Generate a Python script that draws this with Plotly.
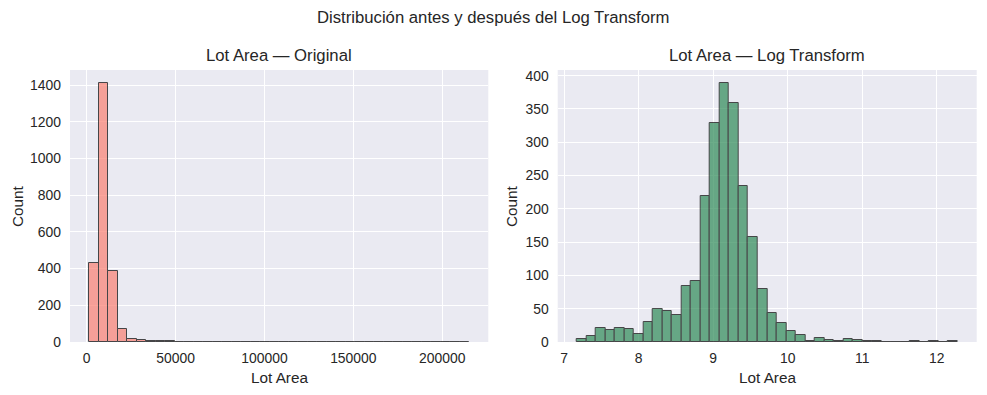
import numpy as np
import plotly.graph_objects as go

# ---------------- data ----------------
lot_area_min = 1300
lot_area_max = 215245
n_bins = 40

# counts per bin, original Lot Area (40 equal bins between min and max)
orig_counts = [431, 1412, 387, 71, 18, 13, 5, 3, 3, 2,
               1, 1, 1, 0, 0, 0, 0, 0, 0, 0,
               0, 1, 0, 0, 0, 0, 0, 0, 1, 0,
               0, 0, 0, 0, 0, 0, 0, 0, 0, 1]

# counts per bin, log(Lot Area) (40 equal bins between log(min) and log(max))
log_counts = [4, 9, 21, 18, 21, 20, 12, 30, 50, 46,
              40, 84, 92, 219, 329, 389, 359, 234, 157, 79,
              43, 29, 16, 11, 2, 6, 3, 1, 5, 3,
              1, 1, 0, 0, 0, 1, 0, 1, 0, 1]

orig_xticks = [0, 50000, 100000, 150000, 200000]
orig_yticks = [0, 200, 400, 600, 800, 1000, 1200, 1400]
log_xticks = [7, 8, 9, 10, 11, 12]
log_yticks = [0, 50, 100, 150, 200, 250, 300, 350, 400]

suptitle = "Distribución antes y después del Log Transform"
title_left = "Lot Area — Original"
title_right = "Lot Area — Log Transform"
xlabel = "Lot Area"
ylabel = "Count"

# ---------------- styling ----------------
W, H = 987, 395
BG = "#EAEAF2"
TXT = "#262626"
FONT = "Liberation Sans, Arial, sans-serif"
TICK_SIZE = 13.9
LABEL_SIZE = 15.3
TITLE_SIZE = 16.7

# pixel boxes of the two plot areas
left_box = (70, 488.3)
right_box = (557.7, 976.7)
top_px, bottom_px = 70, 342


def px_x(p):
    return p / W


def px_y(p):
    return 1 - p / H


def bins(lo, hi, n):
    edges = np.linspace(lo, hi, n + 1)
    return (edges[:-1] + edges[1:]) / 2, edges[1] - edges[0], edges


oc, ow, oe = bins(lot_area_min, lot_area_max, n_bins)
lc, lw, le = bins(np.log(lot_area_min), np.log(lot_area_max), n_bins)


def margin_range(edges):
    span = edges[-1] - edges[0]
    return [edges[0] - 0.05 * span, edges[-1] + 0.05 * span]


fig = go.Figure()
fig.add_trace(go.Bar(
    x=oc, y=orig_counts, width=ow, xaxis="x", yaxis="y",
    marker=dict(color="#FA8072", line=dict(color="black", width=1)),
    opacity=0.7, showlegend=False, hoverinfo="x+y",
))
fig.add_trace(go.Bar(
    x=lc, y=log_counts, width=lw, xaxis="x2", yaxis="y2",
    marker=dict(color="#2E8B57", line=dict(color="black", width=1)),
    opacity=0.7, showlegend=False, hoverinfo="x+y",
))

ydom = [px_y(bottom_px), px_y(top_px)]
axis_common = dict(
    showgrid=True, gridcolor="white", gridwidth=1.4,
    zeroline=False, showline=False, ticks="", automargin=False,
    tickfont=dict(family=FONT, size=TICK_SIZE, color=TXT),
)

fig.update_layout(
    template="none",
    width=W, height=H,
    margin=dict(l=0, r=0, t=0, b=0, pad=0),
    paper_bgcolor="white",
    plot_bgcolor=BG,
    bargap=0,
    font=dict(family=FONT, color=TXT),
    xaxis=dict(domain=[px_x(left_box[0]), px_x(left_box[1])],
               range=margin_range(oe), tickvals=orig_xticks,
               ticktext=[str(v) for v in orig_xticks],
               ticklabelstandoff=6, anchor="y", **axis_common),
    yaxis=dict(domain=ydom, range=[0, 1.05 * max(orig_counts)],
               tickvals=orig_yticks, ticklabelstandoff=8,
               anchor="x", **axis_common),
    xaxis2=dict(domain=[px_x(right_box[0]), px_x(right_box[1])],
                range=margin_range(le), tickvals=log_xticks,
                ticklabelstandoff=6, anchor="y2", **axis_common),
    yaxis2=dict(domain=ydom, range=[0, 1.05 * max(log_counts)],
                tickvals=log_yticks, ticklabelstandoff=8,
                anchor="x2", **axis_common),
)

ann = []
ann.append(dict(text=suptitle, x=px_x(493), y=px_y(17), xref="paper", yref="paper",
                showarrow=False, font=dict(size=TITLE_SIZE, color=TXT, family=FONT),
                xanchor="center", yanchor="middle"))
for box, t in [(left_box, title_left), (right_box, title_right)]:
    cx = px_x((box[0] + box[1]) / 2)
    ann.append(dict(text=t, x=cx, y=px_y(56), xref="paper", yref="paper",
                    showarrow=False, font=dict(size=TITLE_SIZE, color=TXT, family=FONT),
                    xanchor="center", yanchor="middle"))
    ann.append(dict(text=xlabel, x=cx, y=px_y(377.5), xref="paper", yref="paper",
                    showarrow=False, font=dict(size=LABEL_SIZE, color=TXT, family=FONT),
                    xanchor="center", yanchor="middle"))
for xpx in [17, 511]:
    ann.append(dict(text=ylabel, x=px_x(xpx), y=px_y((top_px + bottom_px) / 2),
                    xref="paper", yref="paper", textangle=-90,
                    showarrow=False, font=dict(size=LABEL_SIZE, color=TXT, family=FONT),
                    xanchor="center", yanchor="middle"))
fig.update_layout(annotations=ann)

fig.write_html(
    "out.html",
    config={"displayModeBar": False},
    post_script="document.body.style.margin='0';document.body.style.overflow='hidden';",
)
